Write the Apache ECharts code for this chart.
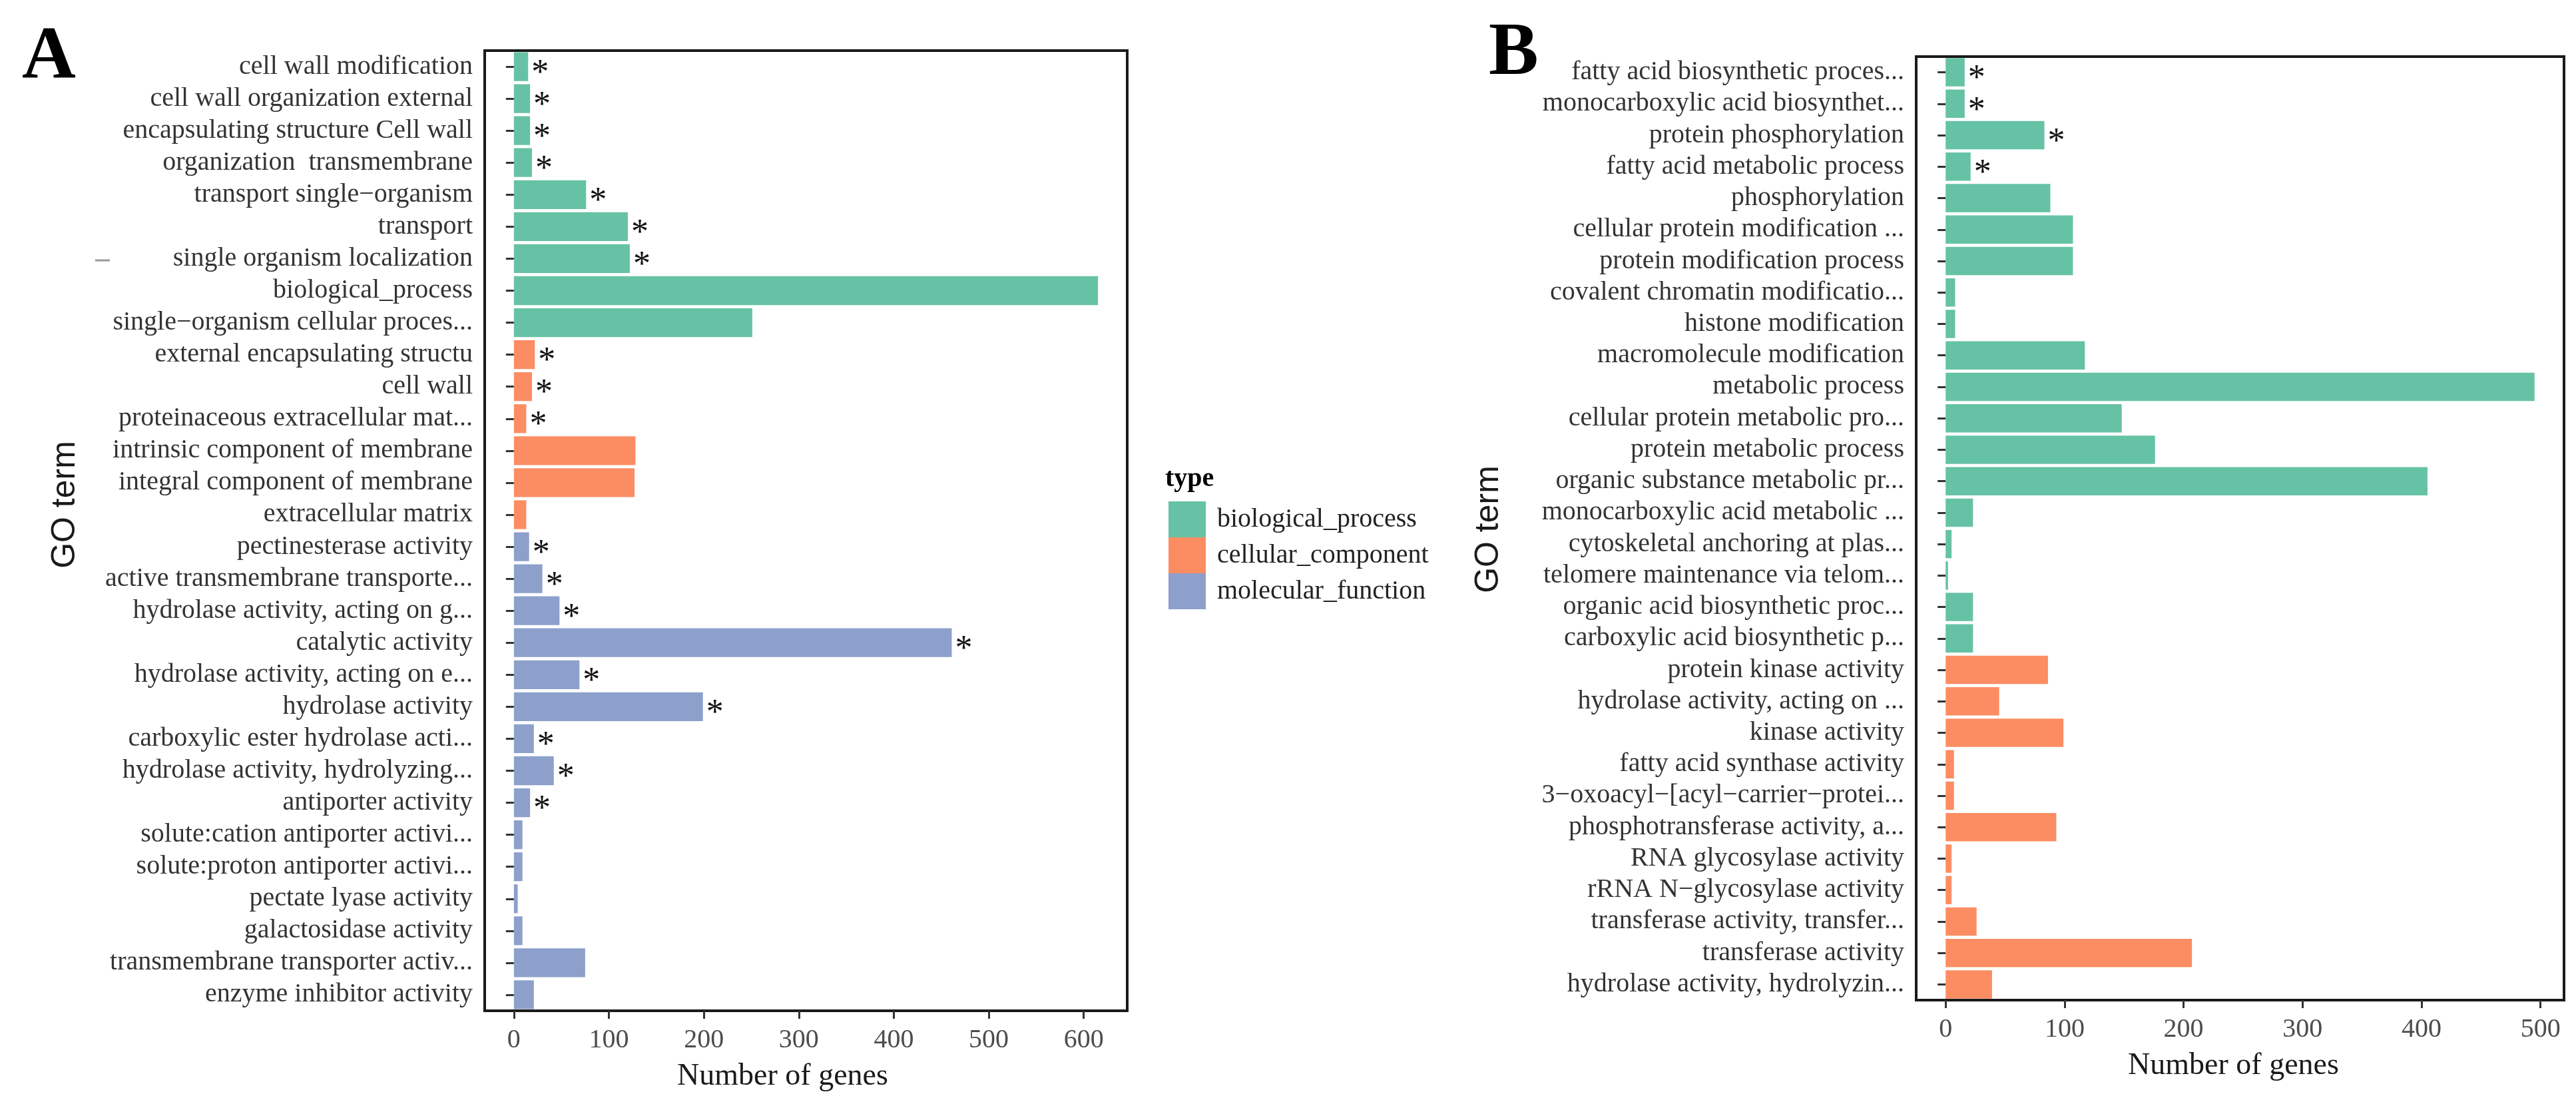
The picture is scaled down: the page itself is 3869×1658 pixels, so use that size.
<!DOCTYPE html>
<html>
<head>
<meta charset="utf-8">
<script src="https://cdn.jsdelivr.net/npm/echarts@6/dist/echarts.min.js"></script>
<style>
html,body{margin:0;padding:0;background:#fff;}
#chart{width:3869px;height:1658px;}
</style>
</head>
<body>
<div id="chart"></div>
<script>
// ---------- Data: panel A ----------
const categoriesA = [
  "cell wall modification",
  "cell wall organization external",
  "encapsulating structure Cell wall",
  "organization  transmembrane",
  "transport single\u2212organism",
  "transport",
  "single organism localization",
  "biological_process",
  "single\u2212organism cellular proces...",
  "external encapsulating structu",
  "cell wall",
  "proteinaceous extracellular mat...",
  "intrinsic component of membrane",
  "integral component of membrane",
  "extracellular matrix",
  "pectinesterase activity",
  "active transmembrane transporte...",
  "hydrolase activity, acting on g...",
  "catalytic activity",
  "hydrolase activity, acting on e...",
  "hydrolase activity",
  "carboxylic ester hydrolase acti...",
  "hydrolase activity, hydrolyzing...",
  "antiporter activity",
  "solute:cation antiporter activi...",
  "solute:proton antiporter activi...",
  "pectate lyase activity",
  "galactosidase activity",
  "transmembrane transporter activ...",
  "enzyme inhibitor activity"
];
const valuesA = [15, 17, 17, 19, 76, 120, 122, 615, 251, 22, 19, 13, 128, 127, 13, 16, 30, 48, 461, 69, 199, 21, 42, 17, 9, 9, 4, 9, 75, 21];
const typesA = ["biological_process","biological_process","biological_process","biological_process","biological_process","biological_process","biological_process","biological_process","biological_process",
  "cellular_component","cellular_component","cellular_component","cellular_component","cellular_component","cellular_component",
  "molecular_function","molecular_function","molecular_function","molecular_function","molecular_function","molecular_function","molecular_function","molecular_function","molecular_function","molecular_function","molecular_function","molecular_function","molecular_function","molecular_function","molecular_function"];
const starsA = [1,1,1,1,1,1,1,0,0, 1,1,1,0,0,0, 1,1,1,1,1,1,1,1,1,0,0,0,0,0,0];
const ticksA = [0, 100, 200, 300, 400, 500, 600];

// ---------- Data: panel B ----------
const categoriesB = [
  "fatty acid biosynthetic proces...",
  "monocarboxylic acid biosynthet...",
  "protein phosphorylation",
  "fatty acid metabolic process",
  "phosphorylation",
  "cellular protein modification ...",
  "protein modification process",
  "covalent chromatin modificatio...",
  "histone modification",
  "macromolecule modification",
  "metabolic process",
  "cellular protein metabolic pro...",
  "protein metabolic process",
  "organic substance metabolic pr...",
  "monocarboxylic acid metabolic ...",
  "cytoskeletal anchoring at plas...",
  "telomere maintenance via telom...",
  "organic acid biosynthetic proc...",
  "carboxylic acid biosynthetic p...",
  "protein kinase activity",
  "hydrolase activity, acting on ...",
  "kinase activity",
  "fatty acid synthase activity",
  "3\u2212oxoacyl\u2212[acyl\u2212carrier\u2212protei...",
  "phosphotransferase activity, a...",
  "RNA glycosylase activity",
  "rRNA N\u2212glycosylase activity",
  "transferase activity, transfer...",
  "transferase activity",
  "hydrolase activity, hydrolyzin..."
];
const valuesB = [16, 16, 83, 21, 88, 107, 107, 8, 8, 117, 495, 148, 176, 405, 23, 5, 2, 23, 23, 86, 45, 99, 7, 7, 93, 5, 5, 26, 207, 39];
const typesB = ["bp","bp","bp","bp","bp","bp","bp","bp","bp","bp","bp","bp","bp","bp","bp","bp","bp","bp","bp",
  "mf","mf","mf","mf","mf","mf","mf","mf","mf","mf","mf"];
const starsB = [1,1,1,1,0,0,0,0,0,0,0,0,0,0,0,0,0,0,0,0,0,0,0,0,0,0,0,0,0,0];
const ticksB = [0, 100, 200, 300, 400, 500];

const typeNames = ["biological_process", "cellular_component", "molecular_function"];
const typeColors = {biological_process: "#66C2A5", cellular_component: "#FC8D62", molecular_function: "#8DA0CB"};

// ---------- Styles ----------
const SERIF = 'Liberation Serif';
const SANS = 'Liberation Sans';

const starLabel = {show: true, position: 'right', formatter: '*', distance: 5, offset: [0, 11],
  fontSize: 52, lineHeight: 26, fontFamily: SERIF, color: '#111'};

function buildSeries(values, types, stars, key, name, color, gridIdx, stack) {
  return {
    type: 'bar', name: name, stack: stack,
    xAxisIndex: gridIdx, yAxisIndex: gridIdx,
    barCategoryGap: '10%',
    itemStyle: {color: color},
    label: {show: false},
    emphasis: {disabled: true},
    data: values.map((v, i) => types[i] === key
      ? (stars[i] ? {value: v, label: starLabel} : v)
      : '-')
  };
}

const series = [];
typeNames.forEach(t => series.push(buildSeries(valuesA, typesA, starsA, t, t, typeColors[t], 0, 'A')));
series.push(buildSeries(valuesB, typesB, starsB, 'bp', 'B biological_process', '#66C2A5', 1, 'B'));
series.push(buildSeries(valuesB, typesB, starsB, 'mf', 'B molecular_function', '#FC8D62', 1, 'B'));

function xAxisCfg(gridIdx, min, max, ticks, namePad) {
  return {
    gridIndex: gridIdx, type: 'value', min: min, max: max,
    axisLine: {show: false},
    splitLine: {show: false},
    axisTick: {show: true, length: 12, customValues: ticks, lineStyle: {color: '#333', width: 3}},
    axisLabel: {customValues: ticks, fontSize: 40, fontFamily: SERIF, fontWeight: 'normal', color: '#4d4d4d', margin: 24},
    name: 'Number of genes', nameLocation: 'middle', nameGap: 76,
    nameTextStyle: {fontSize: 46, fontFamily: SERIF, fontWeight: 'normal', color: '#1a1a1a', padding: namePad}
  };
}
function yAxisCfg(gridIdx, cats) {
  return {
    gridIndex: gridIdx, type: 'category', data: cats, inverse: true,
    axisLine: {show: false},
    axisTick: {show: true, length: 12, alignWithLabel: true, lineStyle: {color: '#333', width: 3}},
    axisLabel: {interval: 0, fontSize: 40, fontFamily: SERIF, color: '#333', margin: 18}
  };
}

const option = {
  backgroundColor: '#ffffff',
  animation: false,
  textStyle: {fontFamily: SERIF},
  grid: [
    {left: 728, top: 76, width: 965, height: 1442, show: true, borderColor: '#1a1a1a', borderWidth: 4, backgroundColor: 'transparent'},
    {left: 2878, top: 85, width: 973, height: 1417, show: true, borderColor: '#1a1a1a', borderWidth: 4, backgroundColor: 'transparent'}
  ],
  xAxis: [
    xAxisCfg(0, -30.75, 645.75, ticksA, [0, 70, 0, 0]),
    xAxisCfg(1, -24.75, 519.75, ticksB, [0, 20, 0, 0])
  ],
  yAxis: [yAxisCfg(0, categoriesA), yAxisCfg(1, categoriesB)],
  legend: {
    orient: 'vertical', left: 1750, top: 748,
    itemWidth: 56, itemHeight: 54, itemGap: 0, icon: 'rect',
    selectedMode: false,
    data: typeNames,
    textStyle: {fontSize: 40, fontFamily: SERIF, color: '#222', padding: [0, 0, 0, 12]}
  },
  graphic: [
    {type: 'text', x: 33, y: 88, style: {text: 'A', fontSize: 112, fontWeight: 'bold', fontFamily: SERIF, fill: '#000', textAlign: 'left', textVerticalAlign: 'middle'}},
    {type: 'text', x: 2236, y: 82, style: {text: 'B', fontSize: 112, fontWeight: 'bold', fontFamily: SERIF, fill: '#000', textAlign: 'left', textVerticalAlign: 'middle'}},
    {type: 'text', x: 98, y: 758, rotation: Math.PI / 2, style: {text: 'GO term', fontSize: 50, fontFamily: SANS, fill: '#1a1a1a', textAlign: 'center', textVerticalAlign: 'middle'}},
    {type: 'text', x: 2236, y: 795, rotation: Math.PI / 2, style: {text: 'GO term', fontSize: 50, fontFamily: SANS, fill: '#1a1a1a', textAlign: 'center', textVerticalAlign: 'middle'}},
    {type: 'text', x: 1750, y: 720, style: {text: 'type', fontSize: 40, fontWeight: 'bold', fontFamily: SERIF, fill: '#000', textAlign: 'left', textVerticalAlign: 'middle'}},
    {type: 'line', shape: {x1: 143, y1: 391, x2: 165, y2: 391}, style: {stroke: '#999', lineWidth: 3}}
  ],
  series: series
};

const chart = echarts.init(document.getElementById('chart'), null, {renderer: 'canvas'});
chart.setOption(option);
</script>
</body>
</html>
